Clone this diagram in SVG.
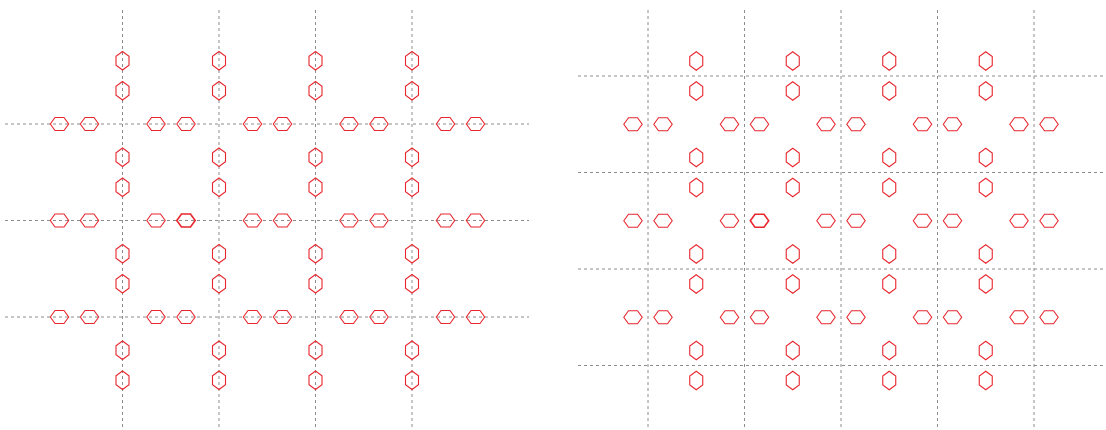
<svg xmlns="http://www.w3.org/2000/svg" xmlns:xlink="http://www.w3.org/1999/xlink" width="1106" height="430" viewBox="0 0 1106 430">
<style>
.g{stroke:#8c8c8c;stroke-width:1;stroke-dasharray:3 3;fill:none}
.h{stroke:#e8262d;stroke-width:1.1;fill:none}
.b{stroke-width:1.6}
</style>
<defs>
<polygon id="hv" points="0,-9.2 6.5,-4.5 6.5,4.5 0,9.2 -6.5,4.5 -6.5,-4.5"/>
<polygon id="hh" points="-9.2,0 -4.5,-6.5 4.5,-6.5 9.2,0 4.5,6.5 -4.5,6.5"/>
</defs>
<rect width="1106" height="430" fill="#ffffff"/>
<g id="connectors">
<g id="left-grid">
<line class="g" x1="122.5" y1="10" x2="122.5" y2="428"/>
<line class="g" x1="219" y1="10" x2="219" y2="428"/>
<line class="g" x1="315.5" y1="10" x2="315.5" y2="428"/>
<line class="g" x1="412" y1="10" x2="412" y2="428"/>
<line class="g" x1="5" y1="124" x2="529" y2="124"/>
<line class="g" x1="5" y1="220.5" x2="529" y2="220.5"/>
<line class="g" x1="5" y1="317" x2="529" y2="317"/>
</g>
<g id="right-grid">
<line class="g" x1="648" y1="10" x2="648" y2="428"/>
<line class="g" x1="744.5" y1="10" x2="744.5" y2="428"/>
<line class="g" x1="841" y1="10" x2="841" y2="428"/>
<line class="g" x1="937.5" y1="10" x2="937.5" y2="428"/>
<line class="g" x1="1034" y1="10" x2="1034" y2="428"/>
<line class="g" x1="578" y1="76" x2="1103" y2="76"/>
<line class="g" x1="578" y1="172.5" x2="1103" y2="172.5"/>
<line class="g" x1="578" y1="269" x2="1103" y2="269"/>
<line class="g" x1="578" y1="365.5" x2="1103" y2="365.5"/>
</g>
</g>
<g id="left-vertical-hexes" class="h">
<use href="#hv" x="122.5" y="60.75"/><use href="#hv" x="122.5" y="90.75"/><use href="#hv" x="122.5" y="157.25"/><use href="#hv" x="122.5" y="187.25"/><use href="#hv" x="122.5" y="253.75"/><use href="#hv" x="122.5" y="283.75"/><use href="#hv" x="122.5" y="350.25"/><use href="#hv" x="122.5" y="380.25"/>
<use href="#hv" x="219" y="60.75"/><use href="#hv" x="219" y="90.75"/><use href="#hv" x="219" y="157.25"/><use href="#hv" x="219" y="187.25"/><use href="#hv" x="219" y="253.75"/><use href="#hv" x="219" y="283.75"/><use href="#hv" x="219" y="350.25"/><use href="#hv" x="219" y="380.25"/>
<use href="#hv" x="315.5" y="60.75"/><use href="#hv" x="315.5" y="90.75"/><use href="#hv" x="315.5" y="157.25"/><use href="#hv" x="315.5" y="187.25"/><use href="#hv" x="315.5" y="253.75"/><use href="#hv" x="315.5" y="283.75"/><use href="#hv" x="315.5" y="350.25"/><use href="#hv" x="315.5" y="380.25"/>
<use href="#hv" x="412" y="60.75"/><use href="#hv" x="412" y="90.75"/><use href="#hv" x="412" y="157.25"/><use href="#hv" x="412" y="187.25"/><use href="#hv" x="412" y="253.75"/><use href="#hv" x="412" y="283.75"/><use href="#hv" x="412" y="350.25"/><use href="#hv" x="412" y="380.25"/>
</g>
<g id="left-horizontal-hexes" class="h">
<use href="#hh" x="59.5" y="124"/><use href="#hh" x="89.5" y="124"/><use href="#hh" x="156" y="124"/><use href="#hh" x="186" y="124"/><use href="#hh" x="252.5" y="124"/><use href="#hh" x="282.5" y="124"/><use href="#hh" x="349" y="124"/><use href="#hh" x="379" y="124"/><use href="#hh" x="445.5" y="124"/><use href="#hh" x="475.5" y="124"/>
<use href="#hh" x="59.5" y="220.5"/><use href="#hh" x="89.5" y="220.5"/><use href="#hh" x="156" y="220.5"/><use href="#hh" x="186" y="220.5" class="b"/><use href="#hh" x="252.5" y="220.5"/><use href="#hh" x="282.5" y="220.5"/><use href="#hh" x="349" y="220.5"/><use href="#hh" x="379" y="220.5"/><use href="#hh" x="445.5" y="220.5"/><use href="#hh" x="475.5" y="220.5"/>
<use href="#hh" x="59.5" y="317"/><use href="#hh" x="89.5" y="317"/><use href="#hh" x="156" y="317"/><use href="#hh" x="186" y="317"/><use href="#hh" x="252.5" y="317"/><use href="#hh" x="282.5" y="317"/><use href="#hh" x="349" y="317"/><use href="#hh" x="379" y="317"/><use href="#hh" x="445.5" y="317"/><use href="#hh" x="475.5" y="317"/>
</g>
<g id="right-vertical-hexes" class="h">
<use href="#hv" x="696.25" y="61"/><use href="#hv" x="696.25" y="91"/><use href="#hv" x="696.25" y="157.5"/><use href="#hv" x="696.25" y="187.5"/><use href="#hv" x="696.25" y="254"/><use href="#hv" x="696.25" y="284"/><use href="#hv" x="696.25" y="350.5"/><use href="#hv" x="696.25" y="380.5"/>
<use href="#hv" x="792.75" y="61"/><use href="#hv" x="792.75" y="91"/><use href="#hv" x="792.75" y="157.5"/><use href="#hv" x="792.75" y="187.5"/><use href="#hv" x="792.75" y="254"/><use href="#hv" x="792.75" y="284"/><use href="#hv" x="792.75" y="350.5"/><use href="#hv" x="792.75" y="380.5"/>
<use href="#hv" x="889.25" y="61"/><use href="#hv" x="889.25" y="91"/><use href="#hv" x="889.25" y="157.5"/><use href="#hv" x="889.25" y="187.5"/><use href="#hv" x="889.25" y="254"/><use href="#hv" x="889.25" y="284"/><use href="#hv" x="889.25" y="350.5"/><use href="#hv" x="889.25" y="380.5"/>
<use href="#hv" x="985.75" y="61"/><use href="#hv" x="985.75" y="91"/><use href="#hv" x="985.75" y="157.5"/><use href="#hv" x="985.75" y="187.5"/><use href="#hv" x="985.75" y="254"/><use href="#hv" x="985.75" y="284"/><use href="#hv" x="985.75" y="350.5"/><use href="#hv" x="985.75" y="380.5"/>
</g>
<g id="right-horizontal-hexes" class="h">
<use href="#hh" x="633" y="124.25"/><use href="#hh" x="663" y="124.25"/><use href="#hh" x="729.5" y="124.25"/><use href="#hh" x="759.5" y="124.25"/><use href="#hh" x="826" y="124.25"/><use href="#hh" x="856" y="124.25"/><use href="#hh" x="922.5" y="124.25"/><use href="#hh" x="952.5" y="124.25"/><use href="#hh" x="1019" y="124.25"/><use href="#hh" x="1049" y="124.25"/>
<use href="#hh" x="633" y="220.75"/><use href="#hh" x="663" y="220.75"/><use href="#hh" x="729.5" y="220.75"/><use href="#hh" x="759.5" y="220.75" class="b"/><use href="#hh" x="826" y="220.75"/><use href="#hh" x="856" y="220.75"/><use href="#hh" x="922.5" y="220.75"/><use href="#hh" x="952.5" y="220.75"/><use href="#hh" x="1019" y="220.75"/><use href="#hh" x="1049" y="220.75"/>
<use href="#hh" x="633" y="317.25"/><use href="#hh" x="663" y="317.25"/><use href="#hh" x="729.5" y="317.25"/><use href="#hh" x="759.5" y="317.25"/><use href="#hh" x="826" y="317.25"/><use href="#hh" x="856" y="317.25"/><use href="#hh" x="922.5" y="317.25"/><use href="#hh" x="952.5" y="317.25"/><use href="#hh" x="1019" y="317.25"/><use href="#hh" x="1049" y="317.25"/>
</g>
</svg>
